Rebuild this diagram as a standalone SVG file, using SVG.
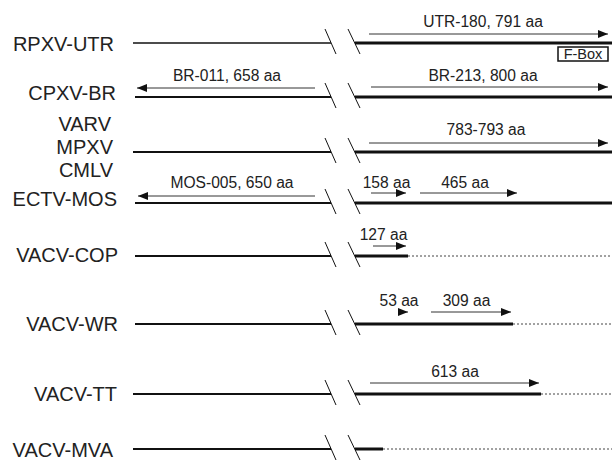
<svg xmlns="http://www.w3.org/2000/svg" width="612" height="462" viewBox="0 0 612 462">
<style>
.lbl{font-family:"Liberation Sans",Arial,sans-serif;font-size:20px;fill:#222;text-anchor:end}
.sm{font-family:"Liberation Sans",Arial,sans-serif;font-size:15.6px;fill:#222;text-anchor:middle}
.thin{stroke:#111;stroke-width:2;fill:none}
.thick{stroke:#111;stroke-width:3;fill:none}
.slash{stroke:#111;stroke-width:1;fill:none}
.arr{stroke:#333;stroke-width:1;fill:none;marker-end:url(#ah)}
.dot{stroke:#444;stroke-width:1;stroke-dasharray:2 2;fill:none}
</style>
<defs>
<marker id="ah" markerUnits="userSpaceOnUse" markerWidth="12" markerHeight="8" refX="10" refY="4" orient="auto">
<path d="M0,0 L10,4 L0,8 Z" fill="#111"/>
</marker>
<g id="brk">
<line class="slash" x1="325" y1="-14" x2="336" y2="11"/>
<line class="slash" x1="348" y1="-14" x2="360" y2="11"/>
</g>
</defs>

<g id="rpxv">
<text class="lbl" x="114" y="51">RPXV-UTR</text>
<line x1="133" y1="43" x2="331" y2="43" stroke="#111" stroke-width="1.5"/>
<use href="#brk" y="43"/>
<line class="thick" x1="355" y1="43" x2="612" y2="43"/>
<text class="sm" x="483" y="27">UTR-180, 791 aa</text>
<rect x="558" y="47" width="50" height="14" fill="#fff" stroke="#111" stroke-width="1.5"/>
<text x="583" y="59" font-family="Liberation Sans, Arial, sans-serif" font-size="14.5" fill="#222" text-anchor="middle">F-Box</text>
</g>

<g id="cpxv">
<text class="lbl" x="116" y="100">CPXV-BR</text>
<line class="thin" x1="135" y1="97" x2="331" y2="97"/>
<use href="#brk" y="97"/>
<line class="thick" x1="355" y1="97" x2="612" y2="97"/>
<text class="sm" x="227" y="81">BR-011, 658 aa</text>
<text class="sm" x="483" y="81">BR-213, 800 aa</text>
</g>

<g id="varv">
<text class="lbl" x="111" y="131">VARV</text>
<text class="lbl" x="113" y="154">MPXV</text>
<text class="lbl" x="113" y="177">CMLV</text>
<line class="thin" x1="133" y1="152" x2="331" y2="152"/>
<use href="#brk" y="152"/>
<line class="thick" x1="355" y1="152" x2="612" y2="152"/>
<text class="sm" x="486" y="135">783-793 aa</text>
</g>

<g id="ectv">
<text class="lbl" x="117" y="206">ECTV-MOS</text>
<line class="thin" x1="135" y1="203" x2="331" y2="203"/>
<use href="#brk" y="203"/>
<line class="thick" x1="355" y1="203" x2="612" y2="203"/>
<text class="sm" x="232" y="188">MOS-005, 650 aa</text>
<text class="sm" x="386.5" y="188">158 aa</text>
<text class="sm" x="465" y="188">465 aa</text>
</g>

<g id="cop">
<text class="lbl" x="118" y="262">VACV-COP</text>
<line class="thin" x1="135" y1="256" x2="331" y2="256"/>
<use href="#brk" y="256"/>
<line class="thick" x1="355" y1="256" x2="408" y2="256"/>
<line class="dot" x1="408" y1="256" x2="612" y2="256"/>
<text class="sm" x="383.5" y="240">127 aa</text>
</g>

<g id="wr">
<text class="lbl" x="118" y="331">VACV-WR</text>
<line class="thin" x1="135" y1="324" x2="331" y2="324"/>
<use href="#brk" y="324"/>
<line class="thick" x1="355" y1="324" x2="513" y2="324"/>
<line class="dot" x1="513" y1="324" x2="612" y2="324"/>
<text class="sm" x="399" y="306">53 aa</text>
<text class="sm" x="466.5" y="306">309 aa</text>
</g>

<g id="tt">
<text class="lbl" x="117" y="401">VACV-TT</text>
<line class="thin" x1="133" y1="394" x2="331" y2="394"/>
<use href="#brk" y="394"/>
<line class="thick" x1="355" y1="394" x2="541" y2="394"/>
<line class="dot" x1="541" y1="394" x2="612" y2="394"/>
<text class="sm" x="455" y="377">613 aa</text>
</g>

<g id="mva">
<text class="lbl" x="113" y="457">VACV-MVA</text>
<line class="thin" x1="133" y1="449" x2="331" y2="449"/>
<use href="#brk" y="449"/>
<line class="thick" x1="355" y1="449" x2="383" y2="449"/>
<line class="dot" x1="383" y1="449" x2="612" y2="449"/>
</g>

<g id="connectors">
<line class="arr" x1="369" y1="34" x2="608" y2="34"/>
<line class="arr" x1="315" y1="88" x2="137" y2="88"/>
<line class="arr" x1="371" y1="87" x2="608" y2="87"/>
<line class="arr" x1="369" y1="143" x2="608" y2="143"/>
<line class="arr" x1="315" y1="196" x2="138" y2="196"/>
<line class="arr" x1="371" y1="193" x2="406" y2="193"/>
<line class="arr" x1="420" y1="193" x2="517" y2="193"/>
<line class="arr" x1="373" y1="246" x2="406" y2="246"/>
<line class="arr" x1="398" y1="312" x2="408" y2="312"/>
<line class="arr" x1="431" y1="312" x2="511" y2="312"/>
<line class="arr" x1="370" y1="383" x2="539" y2="383"/>
</g>
</svg>
